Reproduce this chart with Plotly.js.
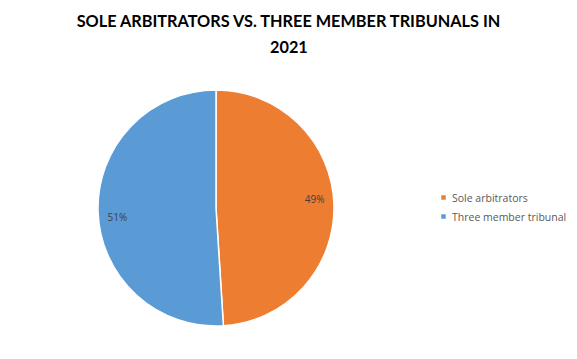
<!DOCTYPE html>
<html><head><meta charset="utf-8">
<script src="https://cdn.plot.ly/plotly-3.0.1.min.js"></script>
<style>body{margin:0;background:#fff}#c{width:577px;height:359px}</style>
</head><body><div id="c"></div>
<script>
const labels = ["Sole arbitrators", "Three member tribunal"];
const values = [49, 51];
const colors = ["#ED7D31", "#5B9BD5"];
const titleLine1 = "SOLE ARBITRATORS VS. THREE MEMBER TRIBUNALS IN";
const titleLine2 = "2021";

const W = 577, H = 359;
const dom = {x: [98/W, 334/W], y: [(H-326)/H, (H-90)/H]};
const titleFont = {family: "Lato, sans-serif", size: 16.3, color: "#000000", weight: "bold"};
const data = [{
  type: "pie",
  labels: labels,
  values: values,
  sort: false,
  direction: "clockwise",
  rotation: 0,
  marker: {colors: colors, line: {color: "#ffffff", width: 1.5}},
  textinfo: "none",
  hoverinfo: "none",
  domain: dom
}, {
  type: "pie",
  labels: labels,
  values: values,
  sort: false,
  direction: "clockwise",
  rotation: -3.5,
  hole: 0.68,
  showlegend: false,
  marker: {colors: ["rgba(0,0,0,0)", "rgba(0,0,0,0)"], line: {width: 0}},
  textinfo: "percent",
  texttemplate: "%{percent:.0%}",
  textposition: "inside",
  insidetextorientation: "horizontal",
  textfont: {family: "Open Sans, sans-serif", size: 10, color: "#404040"},
  hoverinfo: "none",
  domain: dom
}];
const layout = {
  width: W, height: H,
  margin: {l: 0, r: 0, t: 0, b: 0, autoexpand: false},
  paper_bgcolor: "#ffffff",
  title: {text: titleLine1, x: 0.5, xanchor: "center", y: 1 - 21.5/H, yanchor: "middle",
          font: titleFont},
  annotations: [{text: titleLine2, xref: "paper", yref: "paper", x: 0.5, y: 1 - 46/H,
                 xanchor: "center", yanchor: "middle", showarrow: false, font: titleFont}],
  showlegend: true,
  legend: {x: 412/W, y: (H-183)/H, xanchor: "left", yanchor: "top",
           font: {family: "Open Sans, sans-serif", size: 10.5, color: "#595959"},
           itemwidth: 30, tracegroupgap: 0},
  uniformtext: {mode: false}
};
Plotly.newPlot("c", data, layout, {displayModeBar: false, staticPlot: true}).then(function () {
  document.querySelectorAll("#c .legend .legendpoints path").forEach(function (p) {
    p.setAttribute("d", "M14.5,3H8.5V-3H14.5Z");
  });
});
</script></body></html>
